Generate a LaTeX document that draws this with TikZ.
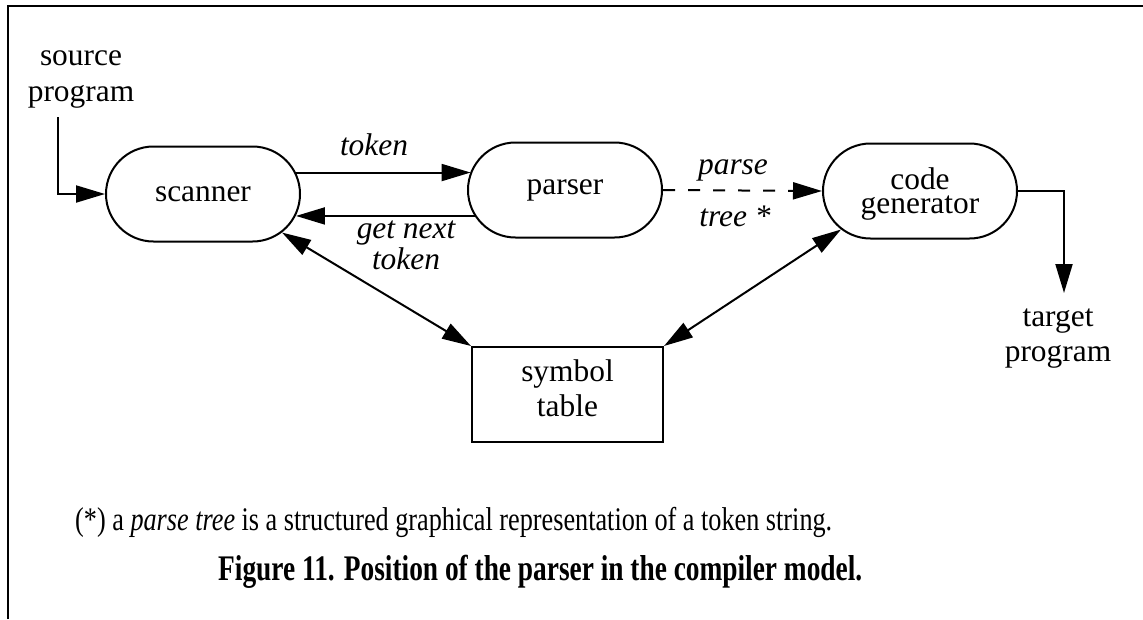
\documentclass[tikz,border=0pt]{standalone}
\usepackage{fontspec}
\usepackage{graphicx}
\setmainfont{Liberation Serif}
\usetikzlibrary{arrows.meta,shapes.misc}
\begin{document}
\begin{tikzpicture}[x=1pt,y=-1pt,
  every node/.style={font=\fontsize{31.4}{35}\selectfont, inner sep=0pt},
  stage/.style={draw, line width=2pt, rounded rectangle, minimum width=194pt,
    minimum height=95pt, align=center},
  store/.style={draw, line width=2pt, rectangle, minimum width=191pt,
    minimum height=95pt, align=center},
  flow/.style={line width=2pt, -{Triangle[length=29pt,width=17pt]}},
  both/.style={line width=2pt, {Triangle[length=29pt,width=17pt]}-{Triangle[length=29pt,width=17pt]}},
  tag/.style={font=\itshape\fontsize{31.4}{31}\selectfont, align=center},
  plain/.style={align=center}
]
\useasboundingbox (0,0) rectangle (1143,619);

% open frame: top and left rules only
\draw[line width=2pt] (8,619) -- (8,6) -- (1143,6);

% compiler stages
\node[stage] (scanner) at (203,194) {scanner};
\node[stage] (parser) at (565,190) {parser};
\node[stage, font=\fontsize{31.4}{24}\selectfont, text depth=1.5pt] (codegen) at (920,191) {code\\generator};
\node[store, text depth=12pt] (symtab) at (567.5,394.5) {symbol\\table};

% input and output
\node[plain, font=\fontsize{31.4}{36}\selectfont] (source) at (81,79) {source\\program};
\coordinate (srcin) at (58,117);
\draw[flow] (srcin) |- (scanner.west);

\node[plain] (target) at (1058,339) {target\\program};
\coordinate (outend) at (1064,293);
\draw[flow] (codegen.east) -| (outend);

% scanner <-> parser
\draw[flow] (scanner.13) -- (parser.169.5 |- scanner.13);
\node[tag] (toklbl) at (374,145) {token};
\draw[flow] (parser.196) -- (scanner.-13 |- parser.196);
\node[tag] (nextlbl) at (406,245) {get next\\token};

% parser -> code generator
\draw[flow, dash pattern=on 12pt off 13pt] (parser.east) -- (codegen.west);
\node[tag] (parselbl) at (733,170) {parse};
\node[tag] (treelbl) at (735,216) {tree *};

% symbol table access
\draw[both] (scanner.-26) -- (symtab.north west);
\draw[both] (codegen.206) -- (symtab.north east);

% footnote and caption
\node[anchor=base west, font=\fontsize{33}{36}\selectfont] (note) at (75,530)
  {\resizebox{757pt}{\height}{(*) a \textit{parse tree} is a structured graphical representation of a token string.}};
\node[anchor=base west, font=\fontsize{36}{40}\selectfont\bfseries] (caption) at (218,580)
  {\resizebox{644pt}{\height}{Figure 11. Position of the parser in the compiler model.}};
\end{tikzpicture}
\end{document}
